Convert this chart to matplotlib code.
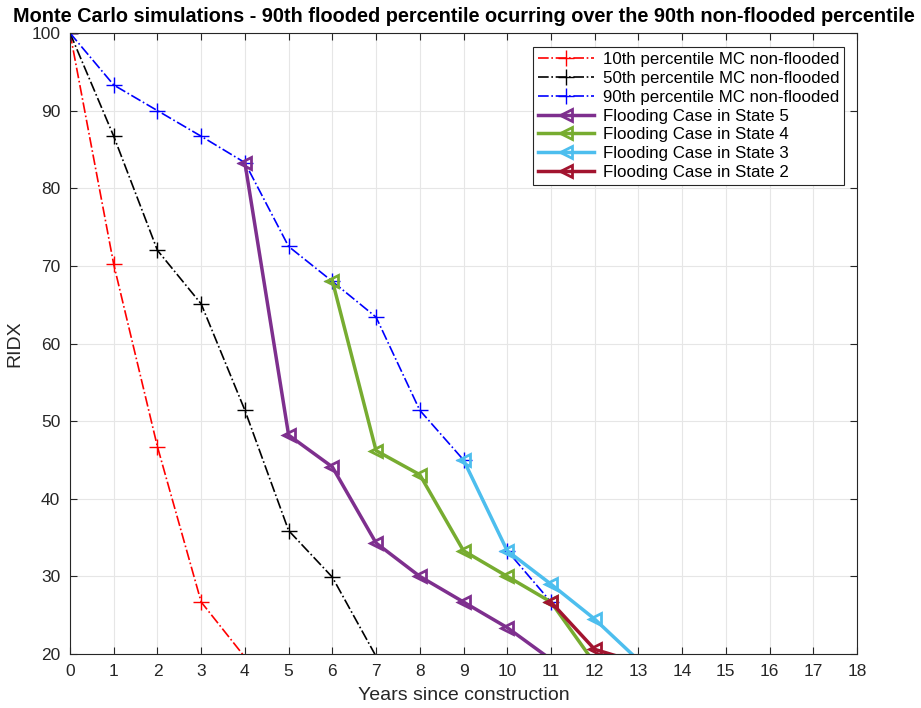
import matplotlib.pyplot as plt

plt.rcParams['font.family'] = ['Liberation Sans', 'DejaVu Sans']

# non-flooded Monte Carlo percentiles
years = [0, 1, 2, 3, 4, 5, 6, 7, 8, 9, 10, 11]
p10 = [100, 70.2, 46.7, 26.7, 19.6]
p50 = [100, 86.7, 72.0, 65.1, 51.4, 35.9, 29.9, 19.7]
p90 = [100, 93.3, 90.0, 86.7, 83.3, 72.5, 68.0, 63.4, 51.4, 45.0, 33.3, 26.7]

# flooding cases
s5_x = [4, 5, 6, 7, 8, 9, 10, 11]
s5_y = [83.3, 48.2, 44.1, 34.3, 30.0, 26.7, 23.4, 19.3]
s4_x = [6, 7, 8, 9, 10, 11, 12]
s4_y = [68.1, 46.2, 43.1, 33.3, 30.0, 26.7, 18.8]
s3_x = [9, 10, 11, 12, 13]
s3_y = [45.0, 33.3, 29.0, 24.5, 19.2]
s2_x = [11, 12, 13]
s2_y = [26.7, 20.6, 18.9]

YMIN = 20


def visible(y):
    # only mark points that sit inside the axes (like MATLAB clipping)
    return [i for i, v in enumerate(y) if v >= YMIN]


fig = plt.figure(figsize=(9.21, 7.08), dpi=100)
ax = fig.add_axes([70/921, 54/708, 787/921, 621/708])

ax.plot(years[:len(p10)], p10, '-.', color='red', marker='+', ms=11, lw=1.2,
        markevery=visible(p10), label='10th percentile MC non-flooded')
ax.plot(years[:len(p50)], p50, '-.', color='black', marker='+', ms=11, lw=1.2,
        markevery=visible(p50), label='50th percentile MC non-flooded')
ax.plot(years[:len(p90)], p90, '-.', color='blue', marker='+', ms=11, lw=1.2,
        markevery=visible(p90), label='90th percentile MC non-flooded')

flood_style = dict(marker='<', mfc='none', ms=9, mew=2, lw=2.5)
ax.plot(s5_x, s5_y, color='#7E2F8E', markevery=visible(s5_y),
        label='Flooding Case in State 5', **flood_style)
ax.plot(s4_x, s4_y, color='#77AC30', markevery=visible(s4_y),
        label='Flooding Case in State 4', **flood_style)
ax.plot(s3_x, s3_y, color='#4DBEEE', markevery=visible(s3_y),
        label='Flooding Case in State 3', **flood_style)
ax.plot(s2_x, s2_y, color='#A2142F', markevery=visible(s2_y),
        label='Flooding Case in State 2', **flood_style)

ax.set_xlim(0, 18)
ax.set_ylim(YMIN, 100)
ax.set_xticks(range(0, 19))
ax.set_yticks(range(20, 101, 10))
ax.tick_params(direction='in', labelsize=12.5, length=5, pad=7, colors='#262626',
               top=True, right=True)
ax.tick_params(labeltop=False, labelright=False)
ax.grid(True, color='#e6e6e6', lw=0.8)
for s in ax.spines.values():
    s.set_color('#262626')
    s.set_linewidth(0.8)

ax.set_xlabel('Years since construction', fontsize=14, color='#262626', labelpad=6)
ax.set_ylabel('RIDX', fontsize=14, color='#262626', labelpad=6)
ax.set_title('Monte Carlo simulations - 90th flooded percentile ocurring over the 90th non-flooded percentile',
             fontsize=14.3, fontweight='bold', pad=8)

leg = ax.legend(loc='upper right', bbox_to_anchor=(0.984, 0.977), fontsize=12.2, fancybox=False,
                edgecolor='#262626', framealpha=1, borderpad=0.3, labelspacing=0.22,
                handlelength=3.3, handletextpad=0.5, borderaxespad=0)
leg.get_frame().set_linewidth(0.8)

plt.savefig('out.png', dpi=100)
